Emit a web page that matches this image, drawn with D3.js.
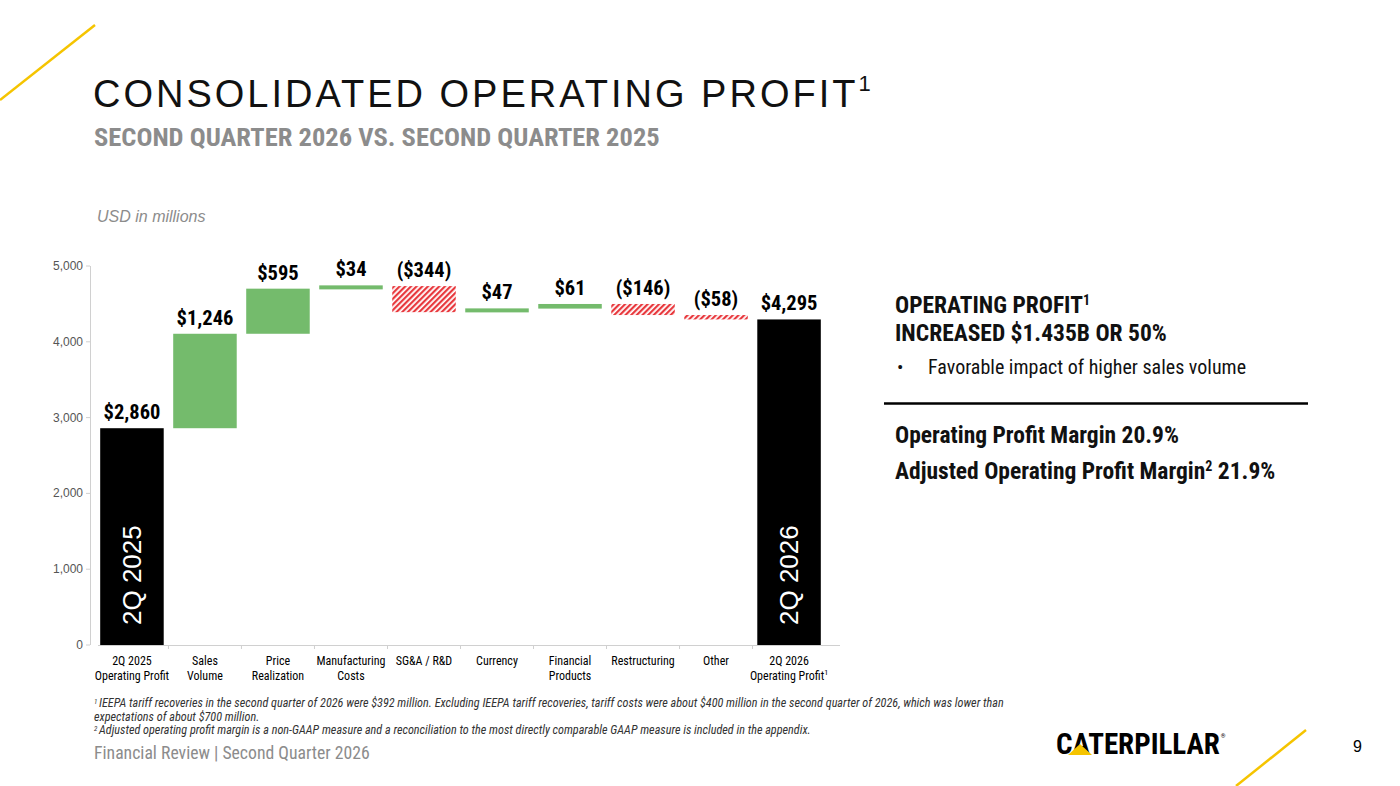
<!DOCTYPE html>
<html><head><meta charset="utf-8">
<script src="https://cdn.jsdelivr.net/npm/d3@7"></script>
<style>body{margin:0;background:#fff}svg{display:block}</style>
</head><body>
<svg id="c" width="1400" height="786"></svg>
<script>
const categories = ["2Q 2025|Operating Profit","Sales|Volume","Price|Realization","Manufacturing|Costs","SG&A / R&D","Currency","Financial|Products","Restructuring","Other","2Q 2026|Operating Profit"];
const values = [2860,1246,595,34,-344,47,61,-146,-58,4295];
const valueLabels = ["$2,860","$1,246","$595","$34","($344)","$47","$61","($146)","($58)","$4,295"];
const types = ["total","delta","delta","delta","delta","delta","delta","delta","delta","total"];
const yTicks = [0,1000,2000,3000,4000,5000];
const totalLabels = ["2Q 2025","","","","","","","","","2Q 2026"];

const narrow = "'Liberation Sans Narrow','Roboto Condensed','Arial Narrow',sans-serif";
const svg = d3.select("#c");
const defs = svg.append("defs");
const pat = defs.append("pattern").attr("id","hatch").attr("patternUnits","userSpaceOnUse")
  .attr("width",4).attr("height",4).attr("patternTransform","rotate(45)");
pat.append("rect").attr("width",4).attr("height",4).attr("fill","#fff");
pat.append("rect").attr("width",2.2).attr("height",4).attr("fill","#e8383d");

svg.append("line").attr("x1",0).attr("y1",100).attr("x2",95).attr("y2",25).attr("stroke","#f5c400").attr("stroke-width",2.5);
svg.append("line").attr("x1",1236).attr("y1",786).attr("x2",1306).attr("y2",730).attr("stroke","#f5c400").attr("stroke-width",2.5);

svg.append("text").attr("x",93).attr("y",107).attr("font-family","'Liberation Sans',Arial,sans-serif")
  .attr("font-size",38).attr("letter-spacing",3).attr("fill","#111")
  .text("CONSOLIDATED OPERATING PROFIT").append("tspan").attr("font-size",22).attr("dy",-16).attr("letter-spacing",0).text("1");
svg.append("text").attr("x",94).attr("y",146).attr("font-family",narrow).attr("font-weight","bold")
  .attr("font-size",26.5).attr("fill","#8c8c8c").text("SECOND QUARTER 2026 VS. SECOND QUARTER 2025");
svg.append("text").attr("x",97).attr("y",222).attr("font-family","'Liberation Sans',Arial,sans-serif").attr("font-style","italic")
  .attr("font-size",16).attr("fill","#8c8c8c").text("USD in millions");

const x = d3.scaleBand().domain(d3.range(categories.length)).range([98,823]).paddingInner(0.13).paddingOuter(0.03);
const y = d3.scaleLinear().domain([0,5000]).range([645,266]);

svg.append("line").attr("x1",98).attr("x2",840).attr("y1",645.5).attr("y2",645.5).attr("stroke","#d0d0d0");
svg.append("line").attr("x1",90.5).attr("x2",90.5).attr("y1",266).attr("y2",645).attr("stroke","#d0d0d0");
const ya = svg.append("g");
yTicks.forEach(t=>{
  ya.append("line").attr("x1",86).attr("x2",90).attr("y1",y(t)).attr("y2",y(t)).attr("stroke","#d0d0d0");
  ya.append("text").attr("x",83).attr("y",y(t)+4).attr("text-anchor","end").attr("font-family","'Liberation Sans',Arial,sans-serif")
    .attr("font-size",12).attr("fill","#555").text(d3.format(",")(t));
});
x.domain().forEach(i=>{
  const xx = x(i)+x.bandwidth()+x.step()*x.paddingInner()/2;
  if(i<categories.length-1) svg.append("line").attr("x1",xx).attr("x2",xx).attr("y1",645).attr("y2",649).attr("stroke","#d0d0d0");
});

let cum = 0;
const bars = values.map((v,i)=>{
  let lo,hi;
  if(types[i]==="total"){lo=0;hi=v;cum=v;}
  else {const s=cum; cum+=v; lo=Math.min(s,cum); hi=Math.max(s,cum);}
  return {i,v,lo,hi,type:types[i]};
});
bars.forEach(b=>{
  let top=y(b.hi), h=y(b.lo)-y(b.hi);
  if(h<4){top-= (4-h)/2; h=4;}
  svg.append("rect").attr("x",x(b.i)).attr("width",x.bandwidth()).attr("y",top).attr("height",h)
    .attr("fill", b.type==="total"?"#000": b.v>0?"#74bb6c":"url(#hatch)");
  svg.append("text").attr("x",x(b.i)+x.bandwidth()/2).attr("y",top-9).attr("text-anchor","middle")
    .attr("font-family",narrow).attr("font-weight","bold").attr("font-size",20.5).attr("fill","#000").text(valueLabels[b.i]);
  if(totalLabels[b.i]){
    svg.append("text").attr("transform",`translate(${x(b.i)+x.bandwidth()/2+9},625) rotate(-90)`)
      .attr("font-family","'Liberation Sans',Arial,sans-serif").attr("font-size",26).attr("fill","#fff").text(totalLabels[b.i]);
  }
  const parts = categories[b.i].split("|");
  parts.forEach((p,k)=>{
    const t = svg.append("text").attr("x",x(b.i)+x.bandwidth()/2).attr("y",665+k*15).attr("text-anchor","middle")
      .attr("font-family",narrow).attr("font-size",12).attr("fill","#000").text(p);
    if(b.i===categories.length-1 && k===1) t.append("tspan").attr("font-size",8).attr("dy",-5).text("1");
  });
});

const rp = svg.append("g").attr("font-family",narrow).attr("fill","#111");
rp.append("text").attr("x",895).attr("y",313).attr("font-weight","bold").attr("font-size",23.5).text("OPERATING PROFIT").append("tspan").attr("font-size",14).attr("dy",-8).text("1");
rp.append("text").attr("x",895).attr("y",341).attr("font-weight","bold").attr("font-size",23.5).text("INCREASED $1.435B OR 50%");
rp.append("text").attr("x",897).attr("y",374).attr("font-size",19).text("•");
rp.append("text").attr("x",928).attr("y",374).attr("font-size",20).text("Favorable impact of higher sales volume");
svg.append("line").attr("x1",884).attr("x2",1308).attr("y1",403.5).attr("y2",403.5).attr("stroke","#000").attr("stroke-width",2.5);
rp.append("text").attr("x",895).attr("y",443).attr("font-weight","bold").attr("font-size",23.5).text("Operating Profit Margin 20.9%");
const t2=rp.append("text").attr("x",895).attr("y",479).attr("font-weight","bold").attr("font-size",23.5).text("Adjusted Operating Profit Margin");
t2.append("tspan").attr("font-size",14).attr("dy",-8).text("2");
t2.append("tspan").attr("dy",8).text(" 21.9%");

const fn = svg.append("g").attr("font-family",narrow).attr("font-style","italic").attr("font-size",12.2).attr("fill","#333");
const f1=fn.append("text").attr("x",94).attr("y",707);
f1.append("tspan").attr("font-size",7).attr("dy",-3).text("1 ");
f1.append("tspan").attr("dy",3).text("IEEPA tariff recoveries in the second quarter of 2026 were $392 million. Excluding IEEPA tariff recoveries, tariff costs were about $400 million in the second quarter of 2026, which was lower than");
fn.append("text").attr("x",94).attr("y",721).text("expectations of about $700 million.");
const f2=fn.append("text").attr("x",94).attr("y",734);
f2.append("tspan").attr("font-size",7).attr("dy",-3).text("2 ");
f2.append("tspan").attr("dy",3).text("Adjusted operating profit margin is a non-GAAP measure and a reconciliation to the most directly comparable GAAP measure is included in the appendix.");
svg.append("text").attr("x",94).attr("y",759).attr("font-family",narrow).attr("font-size",17.7).attr("fill","#8c8c8c").text("Financial Review | Second Quarter 2026");

const logo = svg.append("text").attr("x",1056).attr("y",754).attr("font-family",narrow).attr("font-weight","bold").attr("font-size",29)
  .attr("fill","#000").text("CATERPILLAR");
logo.append("tspan").attr("font-size",6).attr("font-weight","normal").attr("dx",1).attr("dy",-16).text("®");
svg.append("path").attr("d","M1068,755 L1080,744 L1092,755 Z").attr("fill","#f5c400");
svg.append("text").attr("x",1353).attr("y",752).attr("font-family","'Liberation Sans',Arial,sans-serif").attr("font-size",16).attr("fill","#000").text("9");
</script>
</body></html>
